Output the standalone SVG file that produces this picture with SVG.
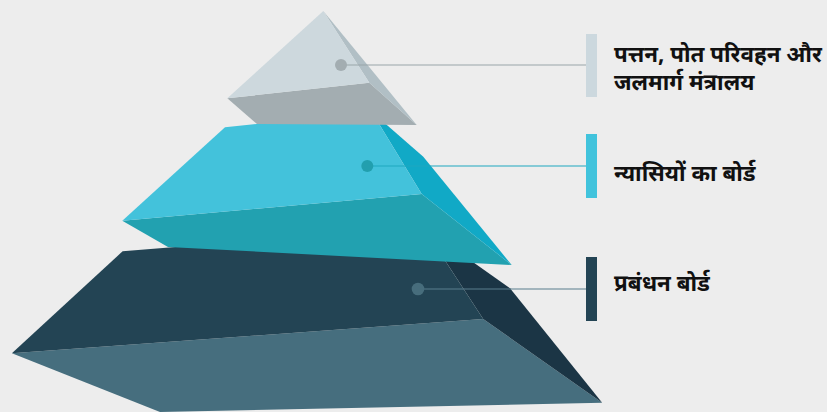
<svg xmlns="http://www.w3.org/2000/svg" width="827" height="412" viewBox="0 0 827 412">
<style>
.lbl{font-family:"Noto Sans","Noto Sans Devanagari","Liberation Sans",sans-serif;font-weight:700;font-size:22.4px;fill:#111111}
</style>
<rect width="827" height="412" fill="#ededed"/>
<g id="tier-bottom">
<polygon points="11.9,353.3 483.2,319 602.2,402.7 160,412" fill="#466e7e"/>
<polygon points="423,226.7 510,288.3 602.2,402.7 483.2,319" fill="#1b3545"/>
<polygon points="122.6,251.3 423,226.7 483.2,319 11.9,353.3" fill="#234454"/>
</g>
<g id="tier-middle">
<polygon points="122.3,220.7 421.7,194 511.7,265 168,247" fill="#22a1b0"/>
<polygon points="371.7,111.7 423.3,156.7 511.7,265 421.7,194" fill="#11a9c6"/>
<polygon points="225,127.3 371.7,111.7 421.7,194 122.3,220.7" fill="#43c2db"/>
</g>
<g id="tier-top">
<polygon points="227.3,98.3 369.3,82.7 416.7,125 257,124" fill="#a3adb1"/>
<polygon points="323.3,11 416.7,125 369.3,82.7" fill="#b1bfc5"/>
<polygon points="323.3,11 369.3,82.7 227.3,98.3" fill="#cdd8dd"/>
</g>
<g id="connectors">
<line x1="341" y1="65" x2="586" y2="65" stroke="#9aa5aa" stroke-width="1.2"/>
<circle cx="341" cy="65" r="6" fill="#a3adb1"/>
<line x1="367.3" y1="166" x2="586" y2="166" stroke="#1fa8c0" stroke-width="1.2"/>
<circle cx="367.3" cy="166" r="6" fill="#229fae"/>
<line x1="418" y1="289" x2="586" y2="289" stroke="#5a7f8e" stroke-width="1.2"/>
<circle cx="418" cy="289" r="6.3" fill="#476d7c"/>
</g>
<g id="label-ministry">
<rect x="586" y="34" width="11" height="63" fill="#ccd8de"/>
<text class="lbl" x="614" y="61.5">पत्तन, पोत परिवहन और</text>
<text class="lbl" x="614" y="89.5">जलमार्ग मंत्रालय</text>
</g>
<g id="label-trustees">
<rect x="586" y="134" width="11" height="64" fill="#41c3dc"/>
<text class="lbl" x="614" y="181">न्यासियों का बोर्ड</text>
</g>
<g id="label-management">
<rect x="586" y="257" width="11" height="64" fill="#234454"/>
<text class="lbl" x="614" y="291">प्रबंधन बोर्ड</text>
</g>
</svg>
